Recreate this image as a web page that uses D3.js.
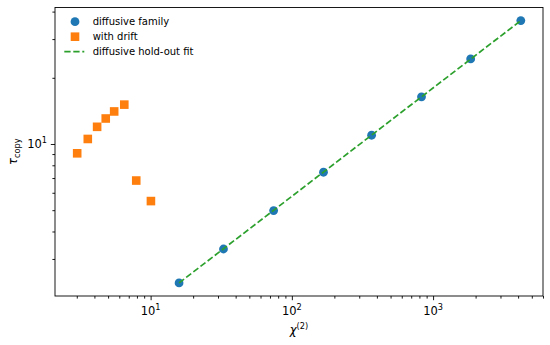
<!DOCTYPE html>
<html>
<head>
<meta charset="utf-8">
<script src="https://cdn.jsdelivr.net/npm/d3@7"></script>
<style>
  body { margin: 0; background: #fff; }
  svg { display: block; font-family: "DejaVu Sans", sans-serif; }
</style>
</head>
<body>
<div id="chart"></div>
<script>
// diffusive family (blue circles)
const diffX = [15.9, 32.8, 74.3, 167.5, 367, 828, 1845, 4180];
const diffY = [2.335, 3.33, 4.98, 7.44, 10.96, 16.38, 24.36, 36.4];

// with drift (orange squares)
const driftX = [3.02, 3.59, 4.18, 4.81, 5.52, 6.51, 7.91, 10.05];
const driftY = [9.07, 10.54, 11.97, 13.06, 14.06, 15.1, 6.82, 5.50];

// hold-out fit line endpoints
const fitX = [15.9, 4180];
const fitY = [2.335, 36.4];

const xMajor = [10, 100, 1000];
const xMajorExp = ["1", "2", "3"];
const yMajor = [10];
const yMajorExp = ["1"];

const legendLabels = ["diffusive family", "with drift", "diffusive hold-out fit"];

const W = 550, H = 345;
const mLeft = 55, mRight = 543, mTop = 7.5, mBottom = 296;

// matplotlib-style 5% margins in log space
function logDomain(vals) {
  const lo = Math.log10(d3.min(vals)), hi = Math.log10(d3.max(vals));
  const pad = (hi - lo) * 0.05;
  return [Math.pow(10, lo - pad), Math.pow(10, hi + pad)];
}

const x = d3.scaleLog()
  .domain(logDomain(diffX.concat(driftX)))
  .range([mLeft, mRight]);

const y = d3.scaleLog()
  .domain(logDomain(diffY.concat(driftY)))
  .range([mBottom, mTop]);

const svg = d3.select("#chart").append("svg")
  .attr("width", W)
  .attr("height", H);

svg.append("rect").attr("width", W).attr("height", H).attr("fill", "#fff");

// minor tick values inside the domain
function minorTicks(scale) {
  const [a, b] = scale.domain();
  const out = [];
  for (let e = Math.floor(Math.log10(a)); e <= Math.ceil(Math.log10(b)); e++) {
    for (let m = 2; m <= 9; m++) {
      const v = m * Math.pow(10, e);
      if (v >= a && v <= b) out.push(v);
    }
  }
  return out;
}

// x axis ticks
const gx = svg.append("g").attr("transform", `translate(0,${mBottom})`);
gx.call(d3.axisBottom(x).tickValues(minorTicks(x)).tickSize(2.6).tickFormat(""));
gx.append("g").call(d3.axisBottom(x).tickValues(xMajor).tickSize(4.2).tickFormat(""));
gx.selectAll("path.domain").remove();
gx.selectAll("line").attr("stroke", "#000").attr("stroke-width", 0.9);

// y axis ticks
const gy = svg.append("g").attr("transform", `translate(${mLeft},0)`);
gy.call(d3.axisLeft(y).tickValues(minorTicks(y)).tickSize(2.6).tickFormat(""));
gy.append("g").call(d3.axisLeft(y).tickValues(yMajor).tickSize(4.2).tickFormat(""));
gy.selectAll("path.domain").remove();
gy.selectAll("line").attr("stroke", "#000").attr("stroke-width", 0.9);

// x tick labels (10^n)
xMajor.forEach((v, i) => {
  const t = svg.append("text")
    .attr("x", x(v))
    .attr("y", 315)
    .attr("text-anchor", "middle")
    .attr("font-size", 11.5)
    .attr("fill", "#000");
  t.append("tspan").text("10");
  t.append("tspan").attr("dy", -5).attr("font-size", 8.2).text(xMajorExp[i]);
});

// y tick labels
yMajor.forEach((v, i) => {
  const t = svg.append("text")
    .attr("x", mLeft - 8)
    .attr("y", y(v) + 4.5)
    .attr("text-anchor", "end")
    .attr("font-size", 11.5)
    .attr("fill", "#000");
  t.append("tspan").text("10");
  t.append("tspan").attr("dy", -5).attr("font-size", 8.2).text(yMajorExp[i]);
});

// axis labels
const xl = svg.append("text")
  .attr("x", (mLeft + mRight) / 2)
  .attr("y", 334)
  .attr("text-anchor", "middle")
  .attr("font-size", 11.5)
  .attr("fill", "#000");
xl.append("tspan").attr("font-style", "italic").text("χ");
xl.append("tspan").attr("dy", -5).attr("font-size", 8.2).text("(2)");

const yl = svg.append("text")
  .attr("transform", `translate(17,${(mTop + mBottom) / 2}) rotate(-90)`)
  .attr("text-anchor", "middle")
  .attr("font-size", 11.5)
  .attr("fill", "#000");
yl.append("tspan").attr("font-style", "italic").text("τ");
yl.append("tspan").attr("dy", 2.5).attr("font-size", 8.2).text("copy");

// data
const plot = svg.append("g");

plot.selectAll("rect.drift")
  .data(d3.zip(driftX, driftY))
  .enter().append("rect")
  .attr("class", "drift")
  .attr("x", d => x(d[0]) - 4.3)
  .attr("y", d => y(d[1]) - 4.3)
  .attr("width", 8.6)
  .attr("height", 8.6)
  .attr("fill", "#ff7f0e");

plot.selectAll("circle.diff")
  .data(d3.zip(diffX, diffY))
  .enter().append("circle")
  .attr("class", "diff")
  .attr("cx", d => x(d[0]))
  .attr("cy", d => y(d[1]))
  .attr("r", 4.4)
  .attr("fill", "#1f77b4");

const line = d3.line().x(d => x(d[0])).y(d => y(d[1]));
plot.append("path")
  .datum(d3.zip(fitX, fitY))
  .attr("d", line)
  .attr("fill", "none")
  .attr("stroke", "#2ca02c")
  .attr("stroke-width", 1.7)
  .attr("stroke-dasharray", "6.3,2.7");

// frame
svg.append("rect")
  .attr("x", mLeft)
  .attr("y", mTop)
  .attr("width", mRight - mLeft)
  .attr("height", mBottom - mTop)
  .attr("fill", "none")
  .attr("stroke", "#000")
  .attr("stroke-width", 0.9);

// legend
const lg = svg.append("g");
const ly = [21.7, 36.7, 51.7];
lg.append("circle").attr("cx", 75).attr("cy", ly[0]).attr("r", 4.4).attr("fill", "#1f77b4");
lg.append("rect").attr("x", 75 - 4.3).attr("y", ly[1] - 4.3).attr("width", 8.6).attr("height", 8.6).attr("fill", "#ff7f0e");
lg.append("line").attr("x1", 64.3).attr("x2", 84.3).attr("y1", ly[2]).attr("y2", ly[2])
  .attr("stroke", "#2ca02c").attr("stroke-width", 1.7).attr("stroke-dasharray", "6.3,2.7");
legendLabels.forEach((s, i) => {
  lg.append("text")
    .attr("x", 92.7)
    .attr("y", ly[i] + 3.6)
    .attr("font-size", 10)
    .attr("fill", "#000")
    .text(s);
});
</script>
</body>
</html>
